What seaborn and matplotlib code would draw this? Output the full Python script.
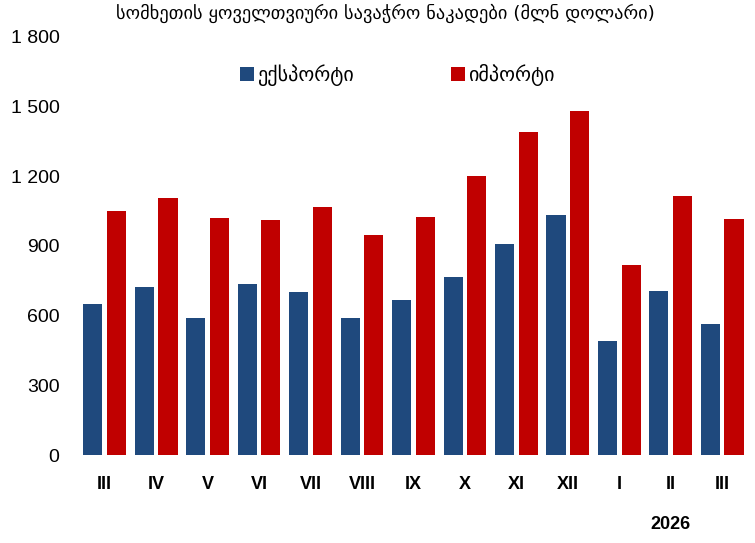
import seaborn as sns
from matplotlib import pyplot as plt
from matplotlib import transforms
import pandas as pd

# Monthly foreign trade of Armenia (mln USD), III 2025 - III 2026
months = ["III", "IV", "V", "VI", "VII", "VIII", "IX", "X", "XI", "XII", "I", "II", "III"]
exports = [649, 725, 590, 736, 703, 590, 667, 765, 907, 1032, 492, 706, 564]
imports = [1049, 1107, 1021, 1010, 1066, 947, 1026, 1201, 1391, 1483, 818, 1114, 1018]
series_names = ["ექსპორტი", "იმპორტი"]
colors = ["#1F497D", "#C00000"]
yticks = [0, 300, 600, 900, 1200, 1500, 1800]
title = "სომხეთის ყოველთვიური სავაჭრო ნაკადები (მლნ დოლარი)"
year_label = "2026"

sns.set_theme(style="white")
plt.rcParams['font.family'] = ['Liberation Sans', 'DejaVu Sans']
plt.rcParams['text.color'] = 'black'
georgian = ['DejaVu Sans Condensed', 'DejaVu Sans']

n = len(months)
df = pd.DataFrame({
    "pos": list(range(n)) * 2,
    "value": exports + imports,
    "series": [series_names[0]] * n + [series_names[1]] * n,
})

fig = plt.figure(figsize=(7.55, 5.43), dpi=100)
ax = fig.add_axes([0.1046, 0.162, 0.886, 0.77])
sns.barplot(data=df, x="pos", y="value", hue="series", palette=colors,
            width=0.917, gap=0.19, ax=ax, saturation=1, edgecolor="none")

ax.set_ylim(0, 1800)
ax.set_xlim(-0.5, n - 0.5)
ax.set_yticks(yticks)
ax.set_yticklabels([f"{v:,}".replace(",", " ") for v in yticks], fontsize=14)
ax.set_xticks(range(n))
ax.set_xticklabels(months, fontsize=13, fontweight="bold")
ax.tick_params(axis="x", length=0, pad=15, colors="black")
ax.tick_params(axis="y", length=0, pad=14, colors="black")
for s in ax.spines.values():
    s.set_visible(False)
ax.grid(False)
ax.set_xlabel("")
ax.set_ylabel("")

handles, labels = ax.get_legend_handles_labels()
ax.legend(handles, labels, ncol=2, loc="center", bbox_to_anchor=(0.476, 0.909),
          frameon=False, handlelength=0.7, handleheight=0.7,
          handletextpad=0.15, columnspacing=4.8, prop={'family': georgian, 'size': 14.5})

fig.text(0.51, 0.975, title, ha="center", va="center", fontsize=13.2, family=georgian)

trans = transforms.blended_transform_factory(ax.transData, ax.transAxes)
ax.text(11, -0.165, year_label, transform=trans, ha="center", va="center",
        fontsize=13, fontweight="bold")

fig.savefig("out.png", dpi=100)
